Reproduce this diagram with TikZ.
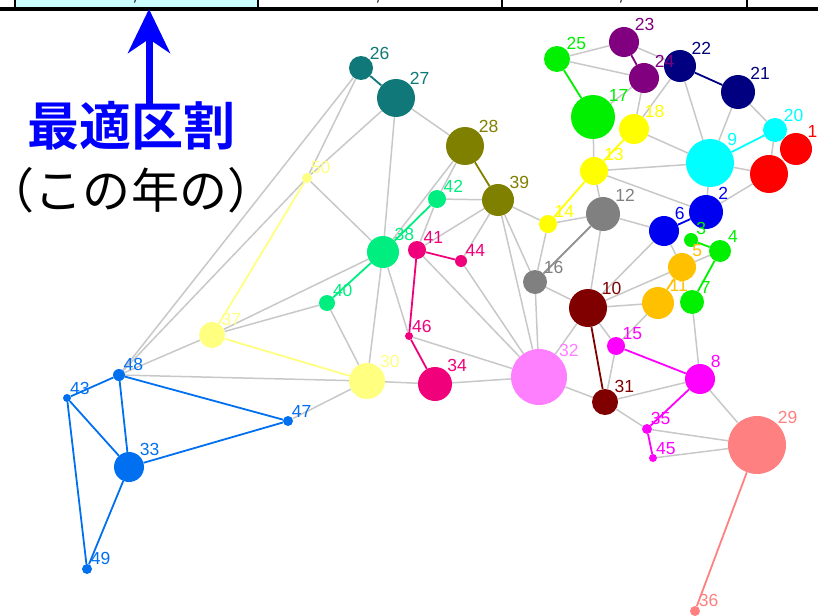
\documentclass[tikz,border=0pt]{standalone}
\usepackage{fontspec}
\setmainfont{Liberation Sans}
\newfontfamily\jp{Noto Sans CJK JP}
\newfontfamily\jpb{Noto Sans CJK JP Bold}
\usetikzlibrary{arrows.meta}
\pgfdeclarelayer{bg}
\pgfsetlayers{bg,main}
\definecolor{cteal}{HTML}{107878}
\definecolor{colive}{HTML}{808000}
\definecolor{cspring}{HTML}{00EE80}
\definecolor{ccrim}{HTML}{F0007A}
\definecolor{cpale}{HTML}{FFFF80}
\definecolor{cpink}{HTML}{FF80FF}
\definecolor{cgray}{HTML}{808080}
\definecolor{cyel}{HTML}{FFFF00}
\definecolor{cgreen}{HTML}{00F000}
\definecolor{cpurp}{HTML}{800080}
\definecolor{cnavy}{HTML}{000080}
\definecolor{ccyan}{HTML}{00FFFF}
\definecolor{cred}{HTML}{FF0000}
\definecolor{cblue}{HTML}{0000F0}
\definecolor{corange}{HTML}{FFC000}
\definecolor{cdred}{HTML}{800000}
\definecolor{cmag}{HTML}{FF00FF}
\definecolor{csalm}{HTML}{FF8080}
\definecolor{cblue2}{HTML}{0070F0}
\definecolor{cedge}{HTML}{C8C8C8}
\definecolor{ctab}{HTML}{CCFFFF}
\definecolor{carrow}{HTML}{0000FF}
\tikzset{
  vtx/.style={circle,inner sep=0pt,draw=none},
  lab/.style={inner sep=0pt,font=\fontsize{17.5}{17.5}\selectfont},
  ge/.style={draw=cedge,line width=1.5pt},
  ce/.style={line width=1.8pt},
  tabline/.style={line width=2.5pt,black},
}
\newcommand\V[5]{\node[vtx,minimum size=#4pt,fill=#5,label={[lab,text=#5]45:#1}] (v#1) at (#2,#3) {};}
\begin{document}
\begin{tikzpicture}[x=1pt,y=-1pt]
\useasboundingbox (0,0) rectangle (818,615);
% table row
\fill[ctab] (15,-6) rectangle (258,9);
\draw[line width=4pt] (0,9) -- (818,9);
\foreach \xx in {15,258,502,747} \draw[tabline] (\xx,-6) -- (\xx,9);
\foreach \xx/\nm in {135/ca,378/cb,621/cc} \node[anchor=base,inner sep=0pt,font=\fontsize{20}{20}\selectfont] (\nm) at (\xx,0.5) {,};
% annotation
\node[anchor=base,inner sep=0pt,text=carrow,font=\jpb\fontsize{52}{52}\selectfont] (opt) at (131,145) {最適区割};
\node[anchor=base,inner sep=0pt,font=\jp\fontsize{48}{48}\selectfont] (year) at (131,208) {（この年の）};
\coordinate (tabbot) at (149,9);
\coordinate (arrbase) at (149,108);
\draw[carrow,line width=7pt,-{Stealth[length=44pt,width=42pt,inset=14pt]}] (arrbase) -- (tabbot);
% vertices
\node[vtx,minimum size=38pt,fill=cred] (v1) at (769,174) {};
\V{2}{706}{212}{34}{cblue}
\V{3}{691}{240}{14}{cgreen}
\V{4}{720}{251}{22}{cgreen}
\V{5}{682}{267}{28}{corange}
\V{6}{664}{231}{30}{cblue}
\V{7}{692}{302}{24}{cgreen}
\V{8}{700}{379}{30}{cmag}
\V{9}{710}{163}{48}{ccyan}
\V{10}{588}{308}{38}{cdred}
\V{11}{658}{303}{32}{corange}
\V{12}{603}{214}{34}{cgray}
\V{13}{594}{171}{28}{cyel}
\V{14}{548}{224}{18}{cyel}
\V{15}{616}{346}{18}{cmag}
\V{16}{535}{282}{24}{cgray}
\V{17}{593}{117}{44}{cgreen}
\V{18}{634}{129}{30}{cyel}
\V{19}{796}{149}{32}{cred}
\V{20}{775}{130}{24}{ccyan}
\V{21}{738}{92}{34}{cnavy}
\V{22}{680}{66}{32}{cnavy}
\V{24}{644}{78}{30}{cpurp}
\V{23}{624}{42}{30}{cpurp}
\V{25}{557}{59}{26}{cgreen}
\V{26}{361}{68}{24}{cteal}
\V{27}{396}{98}{38}{cteal}
\V{28}{465}{146}{38}{colive}
\V{29}{757}{445}{58}{csalm}
\V{30}{367}{381}{36}{cpale}
\V{31}{605}{402}{26}{cdred}
\V{32}{539}{377}{56}{cpink}
\V{33}{129}{467}{30}{cblue2}
\V{34}{435}{384}{34}{ccrim}
\V{35}{647}{429}{10}{cmag}
\V{36}{695}{611}{10}{csalm}
\V{37}{212}{335}{26}{cpale}
\V{38}{383}{252}{32}{cspring}
\V{39}{498}{200}{32}{colive}
\V{40}{327}{303}{16}{cspring}
\V{41}{417}{250}{18}{ccrim}
\V{42}{437}{199}{18}{cspring}
\V{43}{67}{398}{8}{cblue2}
\V{44}{461}{261}{12}{ccrim}
\V{45}{653}{458}{8}{cmag}
\V{46}{409}{336}{8}{ccrim}
\V{47}{288}{421}{10}{cblue2}
\V{48}{119}{375}{12}{cblue2}
\V{49}{87}{569}{10}{cblue2}
\V{50}{307}{178}{10}{cpale}
% edges
\begin{pgfonlayer}{bg}
\foreach \a/\b in {26/48,26/50,27/50,48/50,27/28,27/38,50/38,28/38,28/42,42/41,42/39,39/41,39/44,39/14,39/16,39/32,41/32,44/32,38/46,38/30,38/37,37/40,37/48,48/30,40/30,30/34,30/47,46/32,34/32,32/16,32/10,32/31,16/14,16/10,14/12,12/13,12/10,12/6,13/17,13/9,13/2,17/24,18/24,18/22,18/9,25/23,25/24,23/22,22/9,21/9,21/20,20/1,9/1,9/2,1/2,6/10,6/5,5/10,5/4,11/10,11/15,7/8,10/15,15/31,31/8,31/35,8/29,35/29,45/29}
  \draw[ge] (v\a) -- (v\b);
\draw[ce,draw=cgray!85] (v16) -- (v12);
\foreach \a/\b/\c in {26/27/cteal,28/39/colive,38/42/cspring,38/40/cspring,41/44/ccrim,41/46/ccrim,46/34/ccrim,13/14/cyel,13/18/cyel,17/25/cgreen,3/4/cgreen,4/7/cgreen,23/24/cpurp,22/21/cnavy,9/20/ccyan,2/6/cblue,5/11/corange,10/31/cdred,15/8/cmag,8/35/cmag,35/45/cmag,29/36/csalm,50/37/cpale,37/30/cpale,48/43/cblue2,48/33/cblue2,48/47/cblue2,43/33/cblue2,43/49/cblue2,33/49/cblue2,33/47/cblue2}
  \draw[ce,draw=\c] (v\a) -- (v\b);
\end{pgfonlayer}
\end{tikzpicture}
\end{document}
